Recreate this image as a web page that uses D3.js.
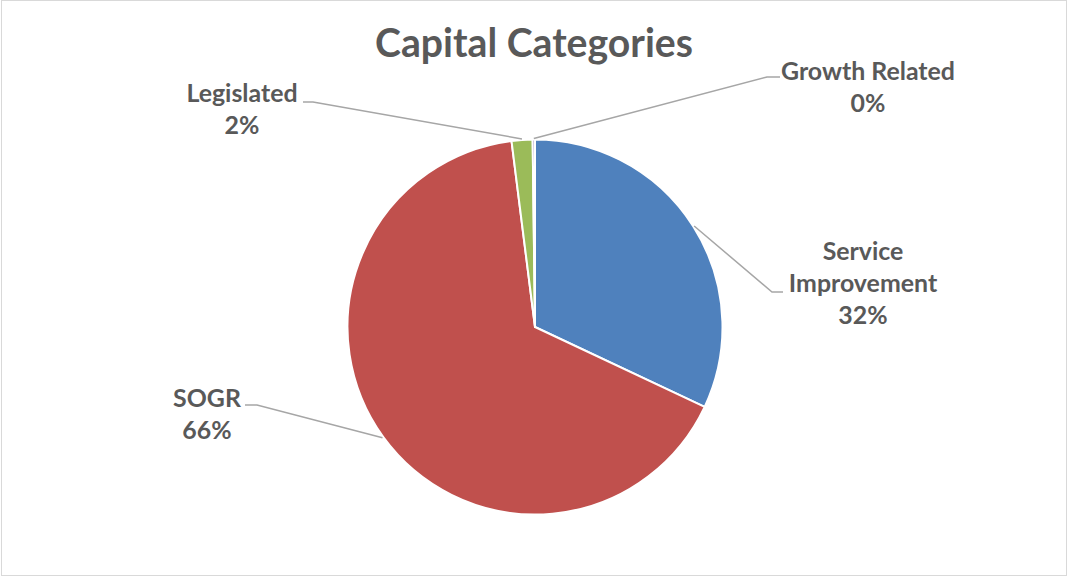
<!DOCTYPE html>
<html>
<head>
<meta charset="utf-8">
<script src="https://cdn.jsdelivr.net/npm/d3@7/dist/d3.min.js"></script>
<style>
  html, body { margin: 0; padding: 0; background: #fff; }
  svg { display: block; }
</style>
</head>
<body>
<svg id="chart" width="1068" height="577"></svg>
<script>
// ---- data ----
const title = "Capital Categories";
const categories = ["Service Improvement", "SOGR", "Legislated", "Growth Related"];
const values = [32.0, 66.0, 1.8, 0.2];
const colors = ["#4F81BD", "#C0504D", "#9BBB59", "#8064A2"];
// label lines (text split)
const labelLines = [["Service", "Improvement"], ["SOGR"], ["Legislated"], ["Growth Related"]];

// ---- layout (not data) ----
const W = 1068, H = 577;
const cx = 535, cy = 327, R = 187.5;
const FONT = "Lato, 'Open Sans', sans-serif";
const TEXT = "#595959";
const lineH = 32;
// label layout: text center x, first baseline y, bend point, end point of horizontal segment
const labelLayout = [
  { x: 863, y: 260, bend: [772, 292], tail: [783, 292] },
  { x: 207, y: 407, bend: [257, 405], tail: [245, 405] },
  { x: 242, y: 101.5, bend: [313, 102], tail: [303, 102] },
  { x: 868, y: 80, bend: [767, 77], tail: [780, 77] }
];

const svg = d3.select("#chart");

svg.append("rect")
  .attr("x", 1.5).attr("y", 0.5)
  .attr("width", 1065).attr("height", 575)
  .attr("fill", "#fff").attr("stroke", "#D9D9D9").attr("stroke-width", 1);

// fit a font size so that text has a target width
function fitSize(txt, target, weight) {
  const t = svg.append("text").attr("font-family", FONT).attr("font-weight", weight)
    .attr("font-size", 100).text(txt);
  const w = t.node().getComputedTextLength();
  t.remove();
  return 100 * target / w;
}

const titleSize = fitSize(title, 318, "bold");
const labelSize = fitSize("Growth Related", 174, "bold");

svg.append("text")
  .attr("x", 534).attr("y", 57)
  .attr("text-anchor", "middle")
  .attr("font-family", FONT).attr("font-weight", "bold")
  .attr("font-size", titleSize)
  .attr("fill", TEXT)
  .text(title);

const pieData = categories.map((c, i) => ({ name: c, value: values[i], i }));
const pie = d3.pie().sort(null).value(d => d.value);
const arcs = pie(pieData);
const arc = d3.arc().innerRadius(0).outerRadius(R);

const g = svg.append("g").attr("transform", `translate(${cx},${cy})`);
g.selectAll("path.slice").data(arcs).enter().append("path")
  .attr("class", "slice")
  .attr("d", arc)
  .attr("fill", d => colors[d.data.i])
  .attr("stroke", "#fff")
  .attr("stroke-width", 2)
  .attr("stroke-linejoin", "round");

// leader lines
const leaderArc = d3.arc().innerRadius(R + 1).outerRadius(R + 1);
arcs.forEach((a, k) => {
  const L = labelLayout[a.data.i];
  const c = leaderArc.centroid(a);
  const p0 = [cx + c[0], cy + c[1]];
  svg.append("polyline")
    .attr("points", [p0, L.bend, L.tail].map(p => p.join(",")).join(" "))
    .attr("fill", "none")
    .attr("stroke", "#A6A6A6")
    .attr("stroke-width", 1.5);
});

// labels
arcs.forEach(a => {
  const i = a.data.i;
  const L = labelLayout[i];
  const lines = labelLines[i].concat([Math.round(a.data.value) + "%"]);
  const t = svg.append("text")
    .attr("text-anchor", "middle")
    .attr("font-family", FONT).attr("font-weight", "bold")
    .attr("font-size", labelSize)
    .attr("fill", TEXT);
  lines.forEach((ln, j) => {
    t.append("tspan").attr("x", L.x).attr("y", L.y + j * lineH).text(ln);
  });
});
</script>
</body>
</html>
